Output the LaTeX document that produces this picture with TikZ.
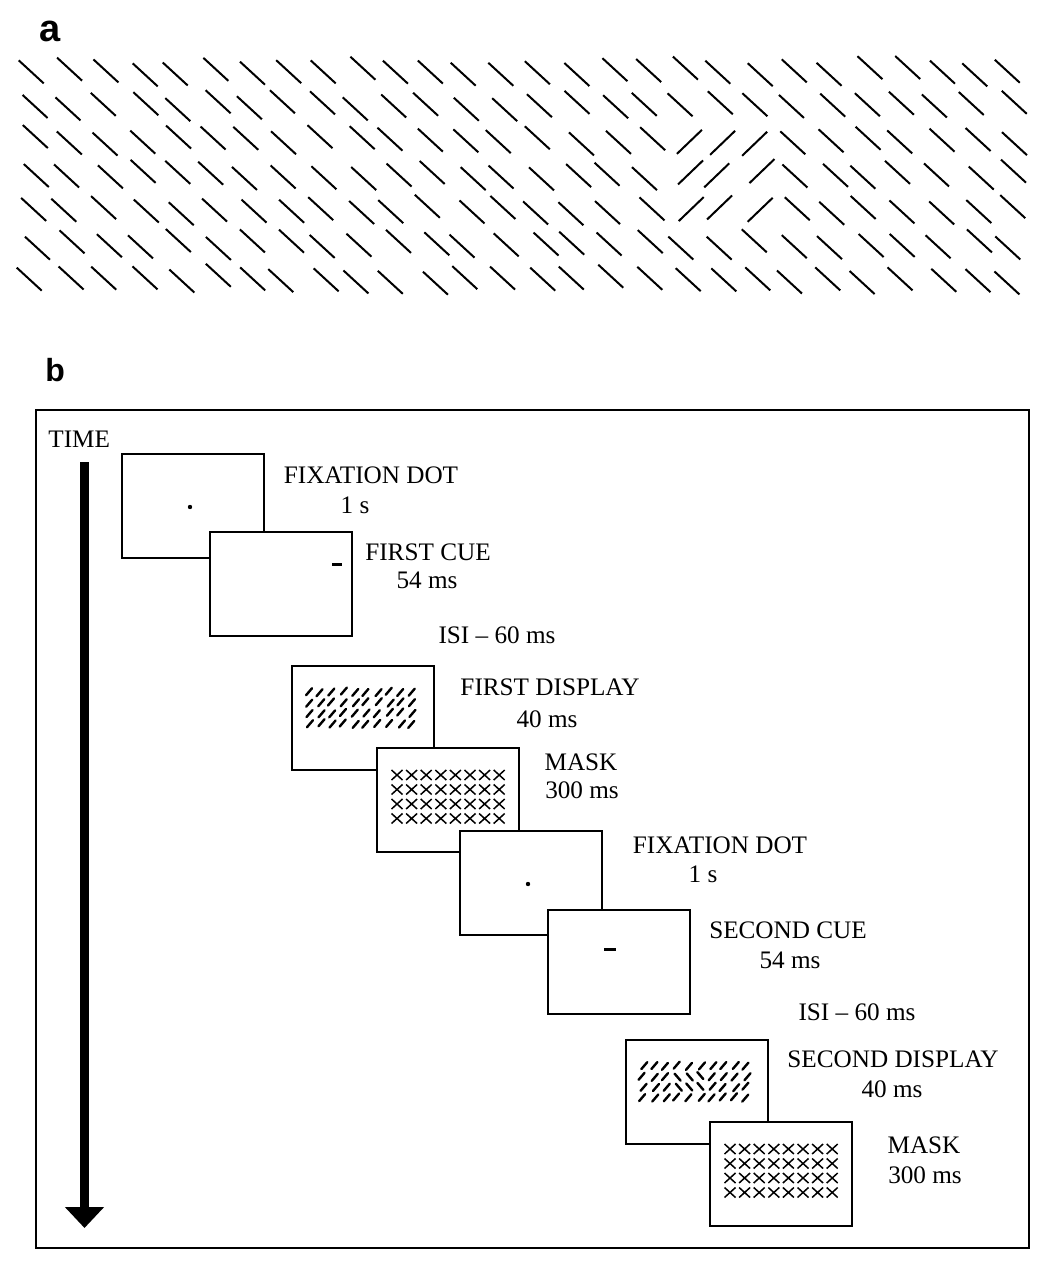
\documentclass[tikz,border=0pt]{standalone}
\usepackage{fontspec}
\setmainfont{Liberation Serif}
\newfontfamily\panelfont{Liberation Sans}
\usetikzlibrary{arrows.meta}
\begin{document}
\begin{tikzpicture}[x=0.5pt,y=-0.5pt,
  screen/.style={draw,line width=1.1pt,fill=white,minimum width=71pt,minimum height=52pt,inner sep=0pt,anchor=north west},
  lbl/.style={anchor=base,inner sep=0pt,font=\fontsize{12.6}{15}\selectfont},
  panel/.style={anchor=base west,inner sep=0pt,font=\panelfont\bfseries},
  bar/.style={line width=1pt},
  tick/.style={line width=1.2pt,line cap=round},
  cross/.style={line width=0.75pt}]
\useasboundingbox (0,0) rectangle (1053,1272);
% a
\node[panel,font=\panelfont\bfseries\fontsize{19}{19}\selectfont] (labA) at (39,42) {a};
\pgfmathsetseed{7}
\foreach \i in {0,...,6} {\foreach \j in {0,...,27} {
  \pgfmathsetmacro{\cx}{32+36.3*\j+6*rand}
  \pgfmathsetmacro{\cy}{71+34.7*\i+4*rand}
  \pgfmathtruncatemacro{\tgt}{(\i>1)&&(\i<5)&&(\j>17)&&(\j<21)}
  \ifnum\tgt=1 \draw[bar] (\cx-12.5,\cy+12)--(\cx+12.5,\cy-12);
  \else \draw[bar] (\cx-12.5,\cy-11.5)--(\cx+12.5,\cy+11.5); \fi}}
% b
\node[panel,font=\panelfont\bfseries\fontsize{16}{16}\selectfont] (labB) at (45,382) {b};
\draw[line width=1.1pt] (36,410) rectangle (1029,1248);
\node[lbl,anchor=base west] (time) at (48,447) {TIME};
\coordinate (ttop) at (84.5,462);
\coordinate (tbot) at (84.5,1228);
\draw[line width=4.5pt,-{Triangle[width=19pt,length=10.5pt]}] (ttop)--(tbot);
\foreach \n/\x/\y in {1/121/453,2/209/531,3/291/665,4/376/747,5/459/830,6/547/909,7/625/1039,8/709/1121}
  \node[screen] (scr\n) at (\x,\y) {};
\foreach \n in {1,5} {\fill ([shift={(69,54)}]scr\n.north west) circle (1.1pt);}
\draw[line width=1.5pt] ([shift={(123,33)}]scr2.north west)--++(10,0);
\draw[line width=1.5pt] ([shift={(57,40)}]scr6.north west)--++(12,0);
\foreach \n in {3,7} {\begin{scope}[shift={(scr\n.north west)}]
  \foreach \i in {0,...,3} {\foreach \j in {0,...,9} {
    \pgfmathsetmacro{\cx}{18+11.5*\j+1.5*rand}
    \pgfmathsetmacro{\cy}{27+10.5*\i+rand}
    \pgfmathtruncatemacro{\odd}{(\n==7)&&(\i>0)&&(\i<3)&&(\j>2)&&(\j<6)}
    \ifnum\odd=1 \draw[tick] (\cx-3,\cy-3.5)--(\cx+3,\cy+3.5);
    \else \draw[tick] (\cx-3,\cy+3.5)--(\cx+3,\cy-3.5); \fi}}
\end{scope}}
\foreach \n in {4,8} {\begin{scope}[shift={(scr\n.north west)}]
  \foreach \i in {0,...,3} {\foreach \j in {0,...,7} {
    \draw[cross] (21+14.6*\j-5.5,28+14.5*\i-5)--++(11,10) (21+14.6*\j-5.5,28+14.5*\i+5)--++(11,-10);}}
\end{scope}}
\node[lbl] (fix1) at (371,483) {FIXATION DOT};
\node[lbl] (fix1t) at (355,513) {1 s};
\node[lbl] (cue1) at (428,560) {FIRST CUE};
\node[lbl] (cue1t) at (427,588) {54 ms};
\node[lbl] (isi1) at (497,643) {ISI -- 60 ms};
\node[lbl] (disp1) at (550,695) {FIRST DISPLAY};
\node[lbl] (disp1t) at (547,727) {40 ms};
\node[lbl] (mask1) at (581,770) {MASK};
\node[lbl] (mask1t) at (582,798) {300 ms};
\node[lbl] (fix2) at (720,853) {FIXATION DOT};
\node[lbl] (fix2t) at (703,882) {1 s};
\node[lbl] (cue2) at (788,938) {SECOND CUE};
\node[lbl] (cue2t) at (790,968) {54 ms};
\node[lbl] (isi2) at (857,1020) {ISI -- 60 ms};
\node[lbl] (disp2) at (893,1067) {SECOND DISPLAY};
\node[lbl] (disp2t) at (892,1097) {40 ms};
\node[lbl] (mask2) at (924,1153) {MASK};
\node[lbl] (mask2t) at (925,1183) {300 ms};
\end{tikzpicture}
\end{document}
